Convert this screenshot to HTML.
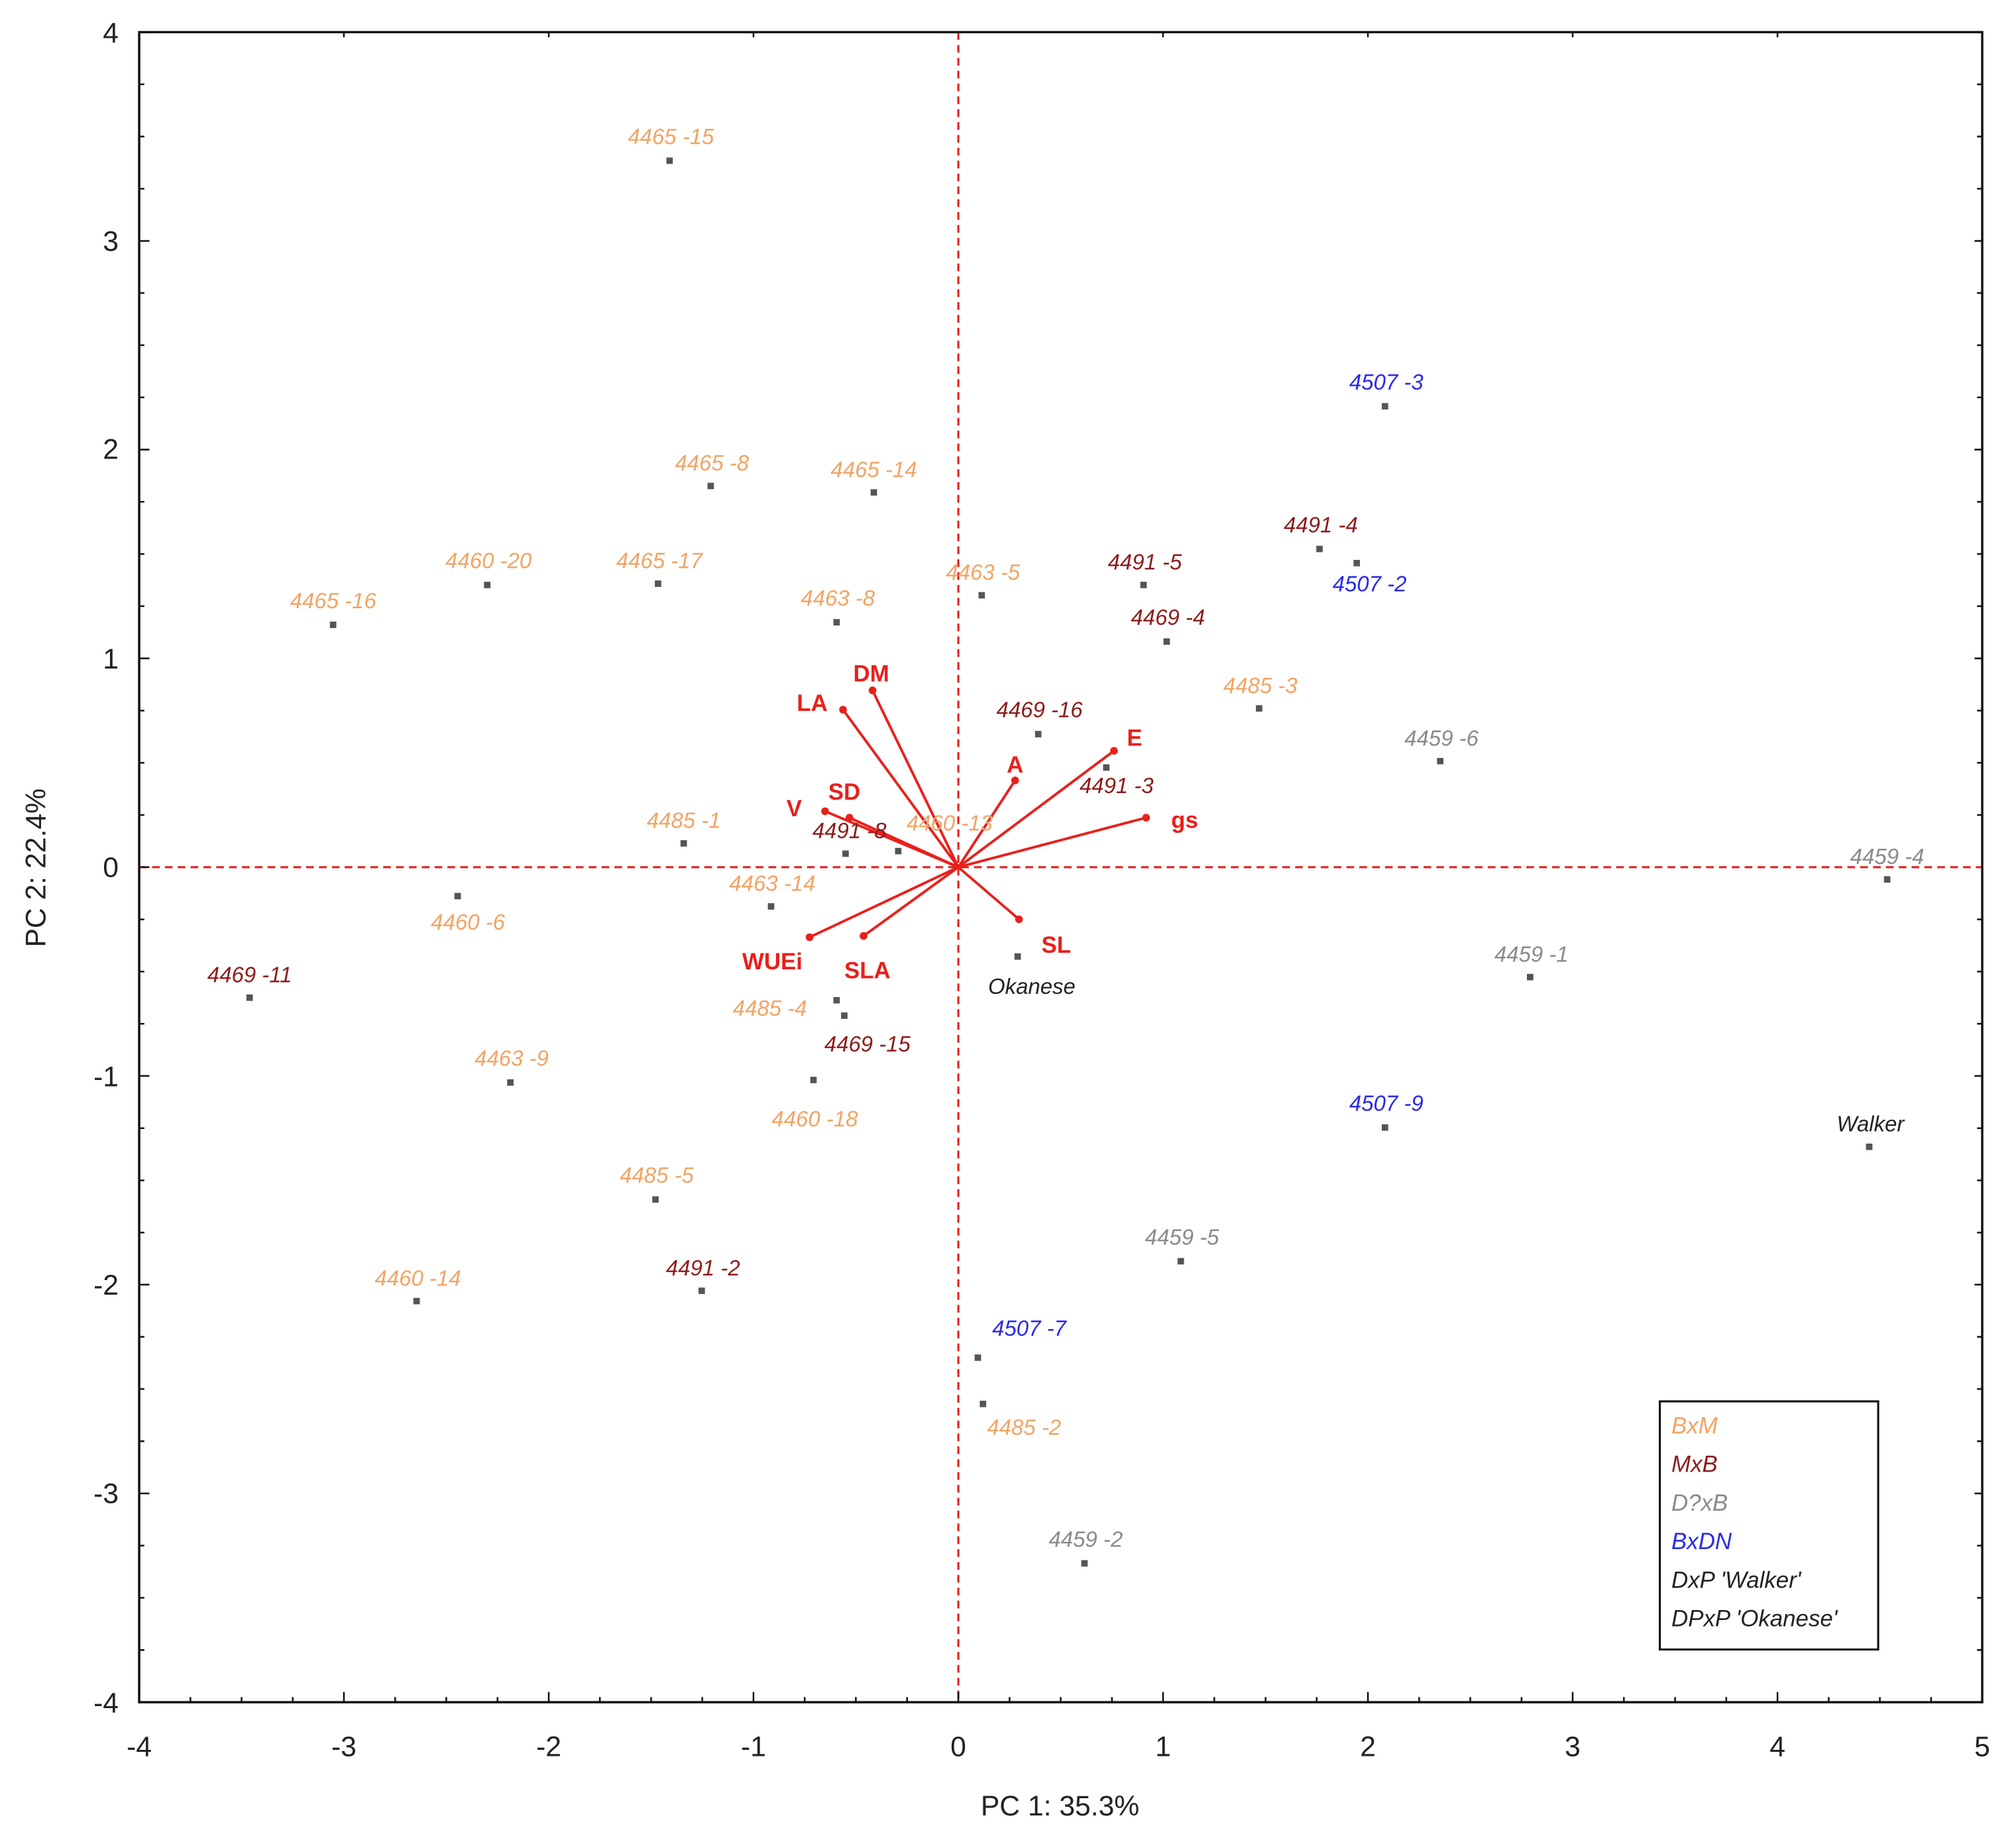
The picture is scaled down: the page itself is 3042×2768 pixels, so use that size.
<!DOCTYPE html>
<html><head><meta charset="utf-8"><style>
html,body{margin:0;padding:0;background:#fff}
svg{display:block}
text{font-family:"Liberation Sans",Arial,sans-serif}
.l{font-size:17px;font-style:italic;text-anchor:middle}
.o{fill:#f2a464}.r{fill:#8b1c1c}.g{fill:#8a8a8a}.b{fill:#2a2ae6}.k{fill:#222}
.v{font-size:18px;font-weight:bold;fill:#e8201c;text-anchor:middle}
.t{font-size:29px;fill:#222}
</style></head><body>
<svg width="3042" height="2768" viewBox="0 0 3042 2768" xmlns="http://www.w3.org/2000/svg">
<rect width="3042" height="2768" fill="#fff"/>
<g transform="matrix(1.938,0,0,1.9404,-1.24,0)">
<line x1="746.8" y1="25" x2="746.8" y2="1324" stroke="#e8201c" stroke-width="1.6" stroke-dasharray="6,4"/>
<line x1="109" y1="674.5" x2="1544" y2="674.5" stroke="#e8201c" stroke-width="1.6" stroke-dasharray="6,4"/>
<rect x="109" y="25" width="1435" height="1299" fill="none" stroke="#111" stroke-width="1.8"/>
<g stroke="#111" stroke-width="1.3">
<path d="M109,1324v-8M268.4,1324v-8M427.9,1324v-8M587.3,1324v-8M746.8,1324v-8M906.2,1324v-8M1065.7,1324v-8M1225.1,1324v-8M1384.6,1324v-8M1544,1324v-8
M148.9,1324v-4M188.7,1324v-4M228.6,1324v-4M308.3,1324v-4M348.1,1324v-4M388,1324v-4M467.7,1324v-4M507.6,1324v-4M547.4,1324v-4M627.2,1324v-4M667,1324v-4M706.9,1324v-4M786.7,1324v-4M826.5,1324v-4M866.4,1324v-4M946.1,1324v-4M986,1324v-4M1025.8,1324v-4M1105.6,1324v-4M1145.4,1324v-4M1185.3,1324v-4M1265,1324v-4M1304.9,1324v-4M1344.7,1324v-4M1424.5,1324v-4M1464.3,1324v-4M1504.2,1324v-4
M109,25h8M109,187.4h8M109,349.7h8M109,512.1h8M109,674.5h8M109,836.9h8M109,999.2h8M109,1161.6h8M109,1324h8
M109,65.6h4M109,106.2h4M109,146.8h4M109,227.9h4M109,268.5h4M109,309.1h4M109,390.3h4M109,430.9h4M109,471.5h4M109,552.7h4M109,593.3h4M109,633.9h4M109,715.1h4M109,755.7h4M109,796.3h4M109,877.5h4M109,918.1h4M109,958.7h4M109,1039.8h4M109,1080.4h4M109,1121h4M109,1202.2h4M109,1242.8h4M109,1283.4h4
M1544,65.6h-4M1544,106.2h-4M1544,146.8h-4M1544,187.4h-6M1544,227.9h-4M1544,268.5h-4M1544,309.1h-4M1544,349.7h-6M1544,390.3h-4M1544,430.9h-4M1544,471.5h-4M1544,512.1h-6M1544,552.7h-4M1544,593.3h-4M1544,633.9h-4M1544,715.1h-4M1544,755.7h-4M1544,796.3h-4M1544,836.9h-6M1544,877.5h-4M1544,918.1h-4M1544,958.7h-4M1544,999.2h-6M1544,1039.8h-4M1544,1080.4h-4M1544,1121h-4M1544,1161.6h-6M1544,1202.2h-4M1544,1242.8h-4M1544,1283.4h-4
M268.4,25v4M427.9,25v4M587.3,25v4M906.2,25v4M1065.7,25v4M1225.1,25v4M1384.6,25v4"/>
</g>
<g class="t" text-anchor="end" style="font-size:22px">
<text x="93" y="33">4</text><text x="93" y="195">3</text><text x="93" y="357">2</text><text x="93" y="520">1</text><text x="93" y="682">0</text><text x="93" y="845">-1</text><text x="93" y="1007">-2</text><text x="93" y="1169">-3</text><text x="93" y="1332">-4</text>
</g>
<g class="t" text-anchor="middle" style="font-size:22px">
<text x="109" y="1366">-4</text><text x="268.4" y="1366">-3</text><text x="427.9" y="1366">-2</text><text x="587.3" y="1366">-1</text><text x="746.8" y="1366">0</text><text x="906.2" y="1366">1</text><text x="1065.7" y="1366">2</text><text x="1225.1" y="1366">3</text><text x="1384.6" y="1366">4</text><text x="1544" y="1366">5</text>
</g>
<text x="826" y="1412" text-anchor="middle" style="font-size:22px;fill:#222">PC 1: 35.3%</text>
<text transform="translate(36,675) rotate(-90)" text-anchor="middle" style="font-size:22px;fill:#222">PC 2: 22.4%</text>
<g stroke="#e8201c" stroke-width="2">
<line x1="746.8" y1="674.5" x2="657" y2="552"/><line x1="746.8" y1="674.5" x2="680" y2="537"/>
<line x1="746.8" y1="674.5" x2="791" y2="607"/><line x1="746.8" y1="674.5" x2="868" y2="584"/>
<line x1="746.8" y1="674.5" x2="893" y2="636"/><line x1="746.8" y1="674.5" x2="662" y2="636"/>
<line x1="746.8" y1="674.5" x2="643" y2="631"/><line x1="746.8" y1="674.5" x2="631" y2="729"/>
<line x1="746.8" y1="674.5" x2="673" y2="728"/><line x1="746.8" y1="674.5" x2="794" y2="715"/>
</g>
<g fill="#e8201c">
<circle cx="657" cy="552" r="3"/><circle cx="680" cy="537" r="3"/><circle cx="791" cy="607" r="3"/><circle cx="868" cy="584" r="3"/><circle cx="893" cy="636" r="3"/><circle cx="662" cy="636" r="3"/><circle cx="643" cy="631" r="3"/><circle cx="631" cy="729" r="3"/><circle cx="673" cy="728" r="3"/><circle cx="794" cy="715" r="3"/>
</g>
<text class="v" x="633" y="553">LA</text><text class="v" x="679" y="530">DM</text><text class="v" x="791" y="601">A</text><text class="v" x="884" y="580">E</text><text class="v" x="923" y="644">gs</text><text class="v" x="658" y="622">SD</text><text class="v" x="619" y="635">V</text><text class="v" x="602" y="754">WUEi</text><text class="v" x="676" y="761">SLA</text><text class="v" x="823" y="741">SL</text>
<g fill="#555">
<rect x="519.5" y="122.5" width="5" height="5"/><rect x="551.5" y="375.5" width="5" height="5"/><rect x="678.5" y="380.5" width="5" height="5"/><rect x="377.5" y="452.5" width="5" height="5"/><rect x="510.5" y="451.5" width="5" height="5"/><rect x="257.5" y="483.5" width="5" height="5"/><rect x="649.5" y="481.5" width="5" height="5"/><rect x="762.5" y="460.5" width="5" height="5"/><rect x="888.5" y="452.5" width="5" height="5"/><rect x="1025.5" y="424.5" width="5" height="5"/><rect x="1054.5" y="435.5" width="5" height="5"/><rect x="1076.5" y="313.5" width="5" height="5"/><rect x="906.5" y="496.5" width="5" height="5"/><rect x="978.5" y="548.5" width="5" height="5"/><rect x="806.5" y="568.5" width="5" height="5"/><rect x="859.5" y="594.5" width="5" height="5"/><rect x="1119.5" y="589.5" width="5" height="5"/><rect x="530.5" y="653.5" width="5" height="5"/><rect x="656.5" y="661.5" width="5" height="5"/><rect x="697.5" y="659.5" width="5" height="5"/><rect x="598.5" y="702.5" width="5" height="5"/><rect x="354.5" y="694.5" width="5" height="5"/><rect x="192.5" y="773.5" width="5" height="5"/><rect x="1467.5" y="681.5" width="5" height="5"/><rect x="1189.5" y="757.5" width="5" height="5"/><rect x="790.5" y="741.5" width="5" height="5"/><rect x="649.5" y="775.5" width="5" height="5"/><rect x="655.5" y="787.5" width="5" height="5"/><rect x="395.5" y="839.5" width="5" height="5"/><rect x="631.5" y="837.5" width="5" height="5"/><rect x="1076.5" y="874.5" width="5" height="5"/><rect x="1453.5" y="889.5" width="5" height="5"/><rect x="508.5" y="930.5" width="5" height="5"/><rect x="917.5" y="978.5" width="5" height="5"/><rect x="544.5" y="1001.5" width="5" height="5"/><rect x="322.5" y="1009.5" width="5" height="5"/><rect x="759.5" y="1053.5" width="5" height="5"/><rect x="763.5" y="1089.5" width="5" height="5"/><rect x="842.5" y="1213.5" width="5" height="5"/>
</g>
<text class="l o" x="523" y="112">4465 -15</text>
<text class="l o" x="555" y="366">4465 -8</text>
<text class="l o" x="681" y="371">4465 -14</text>
<text class="l o" x="381" y="442">4460 -20</text>
<text class="l o" x="514" y="442">4465 -17</text>
<text class="l o" x="260" y="473">4465 -16</text>
<text class="l o" x="653" y="471">4463 -8</text>
<text class="l o" x="766" y="451">4463 -5</text>
<text class="l r" x="892" y="443">4491 -5</text>
<text class="l r" x="1029" y="414">4491 -4</text>
<text class="l b" x="1067" y="460">4507 -2</text>
<text class="l b" x="1080" y="303">4507 -3</text>
<text class="l r" x="910" y="486">4469 -4</text>
<text class="l o" x="982" y="539">4485 -3</text>
<text class="l r" x="810" y="558">4469 -16</text>
<text class="l r" x="870" y="617">4491 -3</text>
<text class="l g" x="1123" y="580">4459 -6</text>
<text class="l o" x="533" y="644">4485 -1</text>
<text class="l o" x="740" y="646">4460 -13</text>
<text class="l r" x="662" y="652">4491 -8</text>
<text class="l o" x="602" y="693">4463 -14</text>
<text class="l o" x="365" y="723">4460 -6</text>
<text class="l r" x="195" y="764">4469 -11</text>
<text class="l g" x="1470" y="672">4459 -4</text>
<text class="l g" x="1193" y="748">4459 -1</text>
<text class="l k" x="804" y="773">Okanese</text>
<text class="l o" x="600" y="790">4485 -4</text>
<text class="l r" x="676" y="818">4469 -15</text>
<text class="l o" x="399" y="829">4463 -9</text>
<text class="l o" x="635" y="876">4460 -18</text>
<text class="l b" x="1080" y="864">4507 -9</text>
<text class="l k" x="1457" y="880">Walker</text>
<text class="l o" x="512" y="920">4485 -5</text>
<text class="l g" x="921" y="968">4459 -5</text>
<text class="l r" x="548" y="992">4491 -2</text>
<text class="l o" x="326" y="1000">4460 -14</text>
<text class="l b" x="802" y="1039">4507 -7</text>
<text class="l o" x="798" y="1116">4485 -2</text>
<text class="l g" x="846" y="1203">4459 -2</text>
<rect x="1293" y="1090" width="170" height="193" fill="#fff" stroke="#111" stroke-width="1.6"/>
<g style="font-size:18px;font-style:italic">
<text x="1302" y="1115" class="o">BxM</text>
<text x="1302" y="1145" class="r">MxB</text>
<text x="1302" y="1175" class="g">D?xB</text>
<text x="1302" y="1205" class="b">BxDN</text>
<text x="1302" y="1235" class="k">DxP 'Walker'</text>
<text x="1302" y="1265" class="k">DPxP 'Okanese'</text>
</g>
</g>
</svg>
</body></html>
